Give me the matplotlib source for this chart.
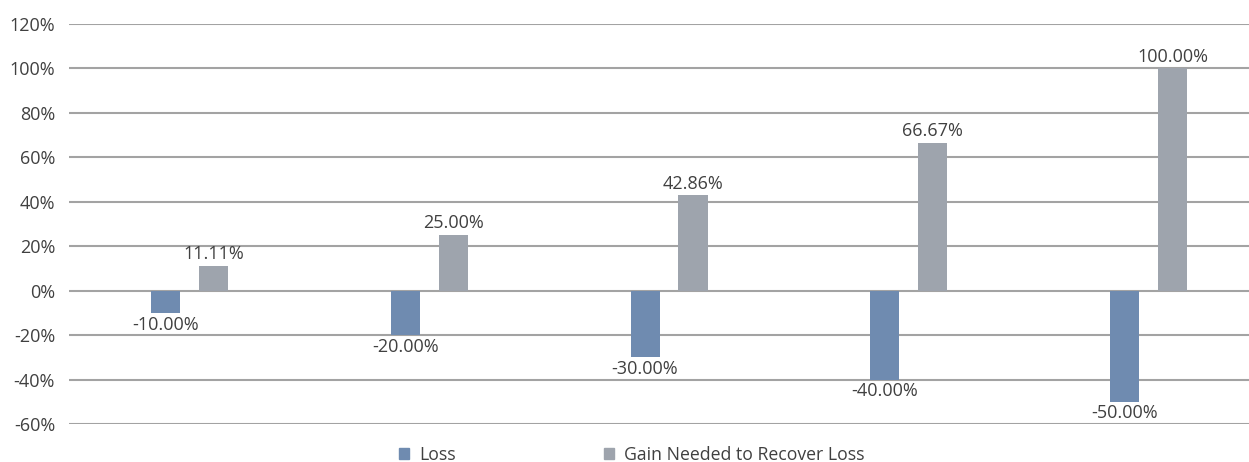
import numpy as np
import matplotlib.pyplot as plt
from matplotlib.patches import Patch

plt.rcParams['font.family'] = ['Open Sans', 'DejaVu Sans']

loss = [-10.00, -20.00, -30.00, -40.00, -50.00]
gain = [11.11, 25.00, 42.86, 66.67, 100.00]
series_names = ["Loss", "Gain Needed to Recover Loss"]
yticks = [-60, -40, -20, 0, 20, 40, 60, 80, 100, 120]

c_loss = "#6f8bb0"
c_gain = "#9ea4ad"
c_text = "#404040"

fig = plt.figure(figsize=(12.49, 4.62), dpi=100)
ax = fig.add_axes([69 / 1249, 38 / 462, 1180 / 1249, 400 / 462])

x = np.arange(len(loss))
w = 0.121
off = 0.1
ax.bar(x - off, loss, width=w, color=c_loss, zorder=3)
ax.bar(x + off, gain, width=w, color=c_gain, zorder=3)

for xi, v in zip(x, loss):
    ax.text(xi - off, v - 1.2, f"{v:.2f}%", ha="center", va="top",
            fontsize=13, color=c_text)
for xi, v in zip(x, gain):
    ax.text(xi + off, v + 1.2, f"{v:.2f}%", ha="center", va="bottom",
            fontsize=13, color=c_text)

ax.set_xlim(-0.5026, 4.419)
ax.set_ylim(-60, 120)
ax.set_yticks(yticks)
ax.set_yticklabels([f"{t}%" for t in yticks], fontsize=13, color=c_text)
ax.set_xticks([])
ax.tick_params(axis="y", length=0, pad=10)
ax.grid(axis="y", color="#a3a3a3", linewidth=1.5, zorder=0)
for s in ax.spines.values():
    s.set_visible(False)

handles = [Patch(color=c_loss), Patch(color=c_gain)]
fig.legend(handles, series_names, loc="center", bbox_to_anchor=(632 / 1249, 1 - 455 / 462),
           ncol=2, frameon=False, fontsize=12.7, labelcolor=c_text,
           handlelength=0.55, handleheight=0.55, handletextpad=0.6, columnspacing=8.4)

fig.savefig("out.png", dpi=100)
